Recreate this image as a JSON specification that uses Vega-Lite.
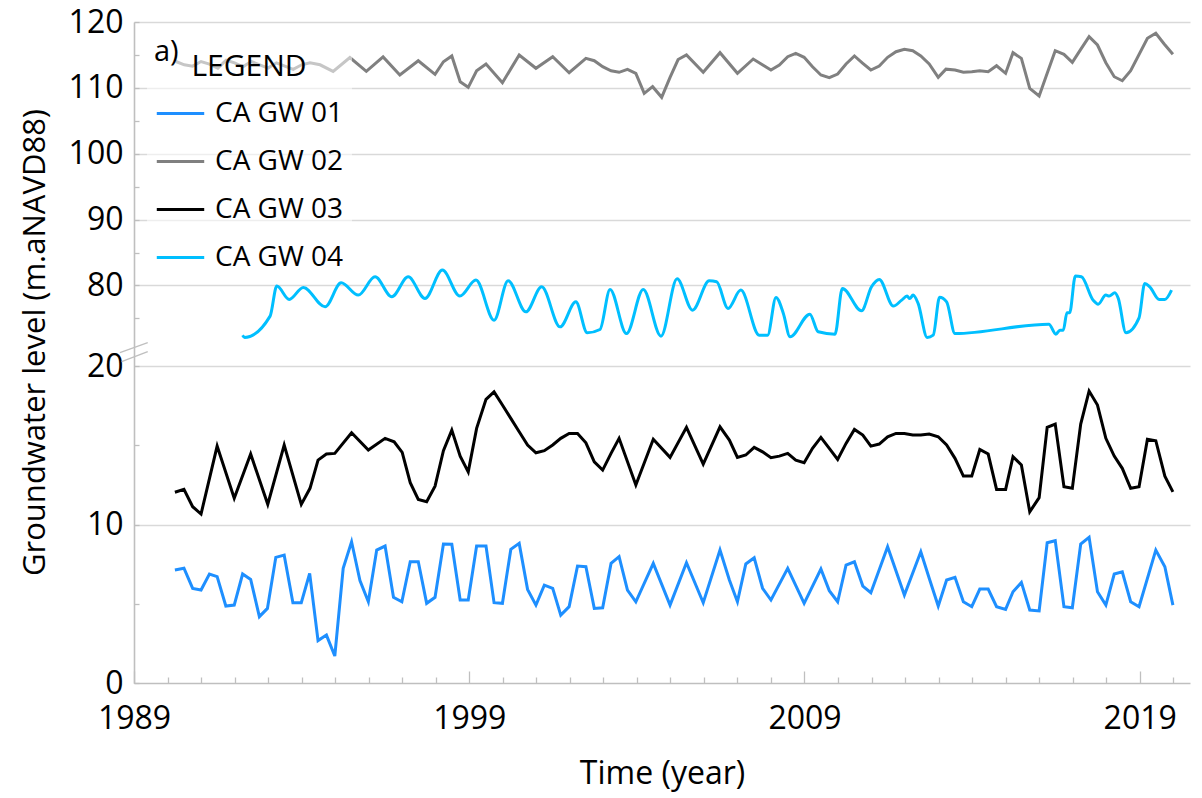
{
  "$schema": "https://vega.github.io/schema/vega-lite/v6.json",
  "width": 1056,
  "height": 661,
  "autosize": {"type": "none"},
  "padding": {"left": 134, "top": 22, "right": 12, "bottom": 115},
  "background": "white",
  "config": {
    "font": "Open Sans",
    "view": {"stroke": null},
    "legend": {
      "labelFontSize": 28,
      "labelFont": "Open Sans",
      "labelColor": "#000000",
      "labelLimit": 400,
      "titleFontSize": 30,
      "titleFontWeight": "normal",
      "titleColor": "#000000",
      "titleLimit": 400
    }
  },
  "title": {"text": "a)", "anchor": "start", "frame": "group", "orient": "top", "offset": 0, "dx": 20, "dy": 84, "baseline": "alphabetic", "fontSize": 29, "fontWeight": "normal", "color": "#000000"},
  "datasets": {
    "axis_break": [
      {"year": 1988.58, "year2": 1989.41, "level": 51.8, "level2": 71.3},
      {"year": 1988.63, "year2": 1989.41, "level": 30.3, "level2": 54.2}
    ],
    "wells": [
      {"well": "CA GW 01", "year": 1990.22, "level": 7.14},
      {"well": "CA GW 01", "year": 1990.49, "level": 7.25},
      {"well": "CA GW 01", "year": 1990.75, "level": 5.98},
      {"well": "CA GW 01", "year": 1991.0, "level": 5.88},
      {"well": "CA GW 01", "year": 1991.25, "level": 6.89},
      {"well": "CA GW 01", "year": 1991.48, "level": 6.72},
      {"well": "CA GW 01", "year": 1991.74, "level": 4.87},
      {"well": "CA GW 01", "year": 1991.99, "level": 4.93},
      {"well": "CA GW 01", "year": 1992.24, "level": 6.89},
      {"well": "CA GW 01", "year": 1992.48, "level": 6.55},
      {"well": "CA GW 01", "year": 1992.74, "level": 4.2},
      {"well": "CA GW 01", "year": 1992.98, "level": 4.72},
      {"well": "CA GW 01", "year": 1993.23, "level": 7.94},
      {"well": "CA GW 01", "year": 1993.48, "level": 8.08},
      {"well": "CA GW 01", "year": 1993.74, "level": 5.08},
      {"well": "CA GW 01", "year": 1993.99, "level": 5.08},
      {"well": "CA GW 01", "year": 1994.24, "level": 6.93},
      {"well": "CA GW 01", "year": 1994.49, "level": 2.69},
      {"well": "CA GW 01", "year": 1994.74, "level": 3.04},
      {"well": "CA GW 01", "year": 1994.99, "level": 1.72},
      {"well": "CA GW 01", "year": 1995.24, "level": 7.25},
      {"well": "CA GW 01", "year": 1995.49, "level": 8.92},
      {"well": "CA GW 01", "year": 1995.74, "level": 6.47},
      {"well": "CA GW 01", "year": 1995.99, "level": 5.14},
      {"well": "CA GW 01", "year": 1996.24, "level": 8.4},
      {"well": "CA GW 01", "year": 1996.49, "level": 8.65},
      {"well": "CA GW 01", "year": 1996.74, "level": 5.42},
      {"well": "CA GW 01", "year": 1996.99, "level": 5.14},
      {"well": "CA GW 01", "year": 1997.24, "level": 7.66},
      {"well": "CA GW 01", "year": 1997.48, "level": 7.66},
      {"well": "CA GW 01", "year": 1997.73, "level": 5.04},
      {"well": "CA GW 01", "year": 1997.98, "level": 5.42},
      {"well": "CA GW 01", "year": 1998.23, "level": 8.78},
      {"well": "CA GW 01", "year": 1998.48, "level": 8.76},
      {"well": "CA GW 01", "year": 1998.73, "level": 5.25},
      {"well": "CA GW 01", "year": 1998.97, "level": 5.25},
      {"well": "CA GW 01", "year": 1999.22, "level": 8.65},
      {"well": "CA GW 01", "year": 1999.5, "level": 8.65},
      {"well": "CA GW 01", "year": 1999.74, "level": 5.08},
      {"well": "CA GW 01", "year": 1999.99, "level": 5.04},
      {"well": "CA GW 01", "year": 2000.24, "level": 8.44},
      {"well": "CA GW 01", "year": 2000.49, "level": 8.82},
      {"well": "CA GW 01", "year": 2000.74, "level": 5.92},
      {"well": "CA GW 01", "year": 2000.99, "level": 4.93},
      {"well": "CA GW 01", "year": 2001.24, "level": 6.19},
      {"well": "CA GW 01", "year": 2001.49, "level": 5.99},
      {"well": "CA GW 01", "year": 2001.73, "level": 4.3},
      {"well": "CA GW 01", "year": 2001.98, "level": 4.83},
      {"well": "CA GW 01", "year": 2002.23, "level": 7.39},
      {"well": "CA GW 01", "year": 2002.48, "level": 7.35},
      {"well": "CA GW 01", "year": 2002.73, "level": 4.72},
      {"well": "CA GW 01", "year": 2002.98, "level": 4.76},
      {"well": "CA GW 01", "year": 2003.23, "level": 7.56},
      {"well": "CA GW 01", "year": 2003.47, "level": 7.98},
      {"well": "CA GW 01", "year": 2003.72, "level": 5.88},
      {"well": "CA GW 01", "year": 2003.97, "level": 5.14},
      {"well": "CA GW 01", "year": 2004.49, "level": 7.56},
      {"well": "CA GW 01", "year": 2004.99, "level": 4.93},
      {"well": "CA GW 01", "year": 2005.48, "level": 7.6},
      {"well": "CA GW 01", "year": 2005.98, "level": 5.08},
      {"well": "CA GW 01", "year": 2006.48, "level": 8.4},
      {"well": "CA GW 01", "year": 2006.76, "level": 6.51},
      {"well": "CA GW 01", "year": 2007.0, "level": 5.14},
      {"well": "CA GW 01", "year": 2007.25, "level": 7.52},
      {"well": "CA GW 01", "year": 2007.5, "level": 7.91},
      {"well": "CA GW 01", "year": 2007.75, "level": 5.99},
      {"well": "CA GW 01", "year": 2008.0, "level": 5.25},
      {"well": "CA GW 01", "year": 2008.5, "level": 7.25},
      {"well": "CA GW 01", "year": 2008.99, "level": 5.04},
      {"well": "CA GW 01", "year": 2009.49, "level": 7.2},
      {"well": "CA GW 01", "year": 2009.74, "level": 5.84},
      {"well": "CA GW 01", "year": 2009.99, "level": 5.14},
      {"well": "CA GW 01", "year": 2010.24, "level": 7.45},
      {"well": "CA GW 01", "year": 2010.49, "level": 7.66},
      {"well": "CA GW 01", "year": 2010.74, "level": 6.13},
      {"well": "CA GW 01", "year": 2010.98, "level": 5.71},
      {"well": "CA GW 01", "year": 2011.48, "level": 8.61},
      {"well": "CA GW 01", "year": 2011.98, "level": 5.56},
      {"well": "CA GW 01", "year": 2012.47, "level": 8.29},
      {"well": "CA GW 01", "year": 2012.74, "level": 6.5},
      {"well": "CA GW 01", "year": 2012.99, "level": 4.87},
      {"well": "CA GW 01", "year": 2013.24, "level": 6.51},
      {"well": "CA GW 01", "year": 2013.49, "level": 6.68},
      {"well": "CA GW 01", "year": 2013.74, "level": 5.14},
      {"well": "CA GW 01", "year": 2013.99, "level": 4.83},
      {"well": "CA GW 01", "year": 2014.23, "level": 5.94},
      {"well": "CA GW 01", "year": 2014.48, "level": 5.94},
      {"well": "CA GW 01", "year": 2014.73, "level": 4.83},
      {"well": "CA GW 01", "year": 2015.0, "level": 4.66},
      {"well": "CA GW 01", "year": 2015.22, "level": 5.77},
      {"well": "CA GW 01", "year": 2015.47, "level": 6.36},
      {"well": "CA GW 01", "year": 2015.72, "level": 4.62},
      {"well": "CA GW 01", "year": 2016.0, "level": 4.56},
      {"well": "CA GW 01", "year": 2016.24, "level": 8.86},
      {"well": "CA GW 01", "year": 2016.48, "level": 8.99},
      {"well": "CA GW 01", "year": 2016.74, "level": 4.83},
      {"well": "CA GW 01", "year": 2016.99, "level": 4.76},
      {"well": "CA GW 01", "year": 2017.24, "level": 8.78},
      {"well": "CA GW 01", "year": 2017.49, "level": 9.2},
      {"well": "CA GW 01", "year": 2017.74, "level": 5.77},
      {"well": "CA GW 01", "year": 2017.99, "level": 4.93},
      {"well": "CA GW 01", "year": 2018.24, "level": 6.89},
      {"well": "CA GW 01", "year": 2018.48, "level": 7.03},
      {"well": "CA GW 01", "year": 2018.73, "level": 5.14},
      {"well": "CA GW 01", "year": 2018.98, "level": 4.83},
      {"well": "CA GW 01", "year": 2019.48, "level": 8.4},
      {"well": "CA GW 01", "year": 2019.75, "level": 7.35},
      {"well": "CA GW 01", "year": 2019.99, "level": 4.93},

      {"well": "CA GW 02", "year": 1990.25, "level": 114.0},
      {"well": "CA GW 02", "year": 1990.5, "level": 113.5},
      {"well": "CA GW 02", "year": 1990.75, "level": 113.3},
      {"well": "CA GW 02", "year": 1991.0, "level": 114.0},
      {"well": "CA GW 02", "year": 1991.25, "level": 113.6},
      {"well": "CA GW 02", "year": 1991.5, "level": 113.0},
      {"well": "CA GW 02", "year": 1991.75, "level": 114.2},
      {"well": "CA GW 02", "year": 1992.0, "level": 113.8},
      {"well": "CA GW 02", "year": 1992.25, "level": 113.2},
      {"well": "CA GW 02", "year": 1992.5, "level": 114.0},
      {"well": "CA GW 02", "year": 1992.75, "level": 113.5},
      {"well": "CA GW 02", "year": 1993.0, "level": 113.0},
      {"well": "CA GW 02", "year": 1993.25, "level": 113.8},
      {"well": "CA GW 02", "year": 1993.5, "level": 113.3},
      {"well": "CA GW 02", "year": 1993.75, "level": 112.8},
      {"well": "CA GW 02", "year": 1994.0, "level": 113.5},
      {"well": "CA GW 02", "year": 1994.25, "level": 113.8},
      {"well": "CA GW 02", "year": 1994.55, "level": 113.5},
      {"well": "CA GW 02", "year": 1994.94, "level": 112.5},
      {"well": "CA GW 02", "year": 1995.44, "level": 114.6},
      {"well": "CA GW 02", "year": 1995.93, "level": 112.5},
      {"well": "CA GW 02", "year": 1996.43, "level": 114.7},
      {"well": "CA GW 02", "year": 1996.93, "level": 111.95},
      {"well": "CA GW 02", "year": 1997.48, "level": 114.12},
      {"well": "CA GW 02", "year": 1997.98, "level": 112.05},
      {"well": "CA GW 02", "year": 1998.23, "level": 113.97},
      {"well": "CA GW 02", "year": 1998.48, "level": 114.84},
      {"well": "CA GW 02", "year": 1998.73, "level": 110.93},
      {"well": "CA GW 02", "year": 1998.97, "level": 110.08},
      {"well": "CA GW 02", "year": 1999.22, "level": 112.6},
      {"well": "CA GW 02", "year": 1999.5, "level": 113.62},
      {"well": "CA GW 02", "year": 1999.99, "level": 110.78},
      {"well": "CA GW 02", "year": 2000.49, "level": 114.99},
      {"well": "CA GW 02", "year": 2000.99, "level": 112.97},
      {"well": "CA GW 02", "year": 2001.49, "level": 114.73},
      {"well": "CA GW 02", "year": 2001.98, "level": 112.3},
      {"well": "CA GW 02", "year": 2002.48, "level": 114.48},
      {"well": "CA GW 02", "year": 2002.73, "level": 114.12},
      {"well": "CA GW 02", "year": 2002.98, "level": 113.21},
      {"well": "CA GW 02", "year": 2003.23, "level": 112.6},
      {"well": "CA GW 02", "year": 2003.47, "level": 112.36},
      {"well": "CA GW 02", "year": 2003.72, "level": 112.81},
      {"well": "CA GW 02", "year": 2003.97, "level": 112.21},
      {"well": "CA GW 02", "year": 2004.22, "level": 109.17},
      {"well": "CA GW 02", "year": 2004.47, "level": 110.18},
      {"well": "CA GW 02", "year": 2004.74, "level": 108.56},
      {"well": "CA GW 02", "year": 2004.99, "level": 111.6},
      {"well": "CA GW 02", "year": 2005.23, "level": 114.3},
      {"well": "CA GW 02", "year": 2005.48, "level": 115.0},
      {"well": "CA GW 02", "year": 2005.98, "level": 112.36},
      {"well": "CA GW 02", "year": 2006.48, "level": 115.34},
      {"well": "CA GW 02", "year": 2007.0, "level": 112.21},
      {"well": "CA GW 02", "year": 2007.47, "level": 114.38},
      {"well": "CA GW 02", "year": 2008.0, "level": 112.71},
      {"well": "CA GW 02", "year": 2008.25, "level": 113.47},
      {"well": "CA GW 02", "year": 2008.5, "level": 114.73},
      {"well": "CA GW 02", "year": 2008.74, "level": 115.24},
      {"well": "CA GW 02", "year": 2008.99, "level": 114.64},
      {"well": "CA GW 02", "year": 2009.24, "level": 113.21},
      {"well": "CA GW 02", "year": 2009.49, "level": 111.95},
      {"well": "CA GW 02", "year": 2009.74, "level": 111.54},
      {"well": "CA GW 02", "year": 2009.99, "level": 112.1},
      {"well": "CA GW 02", "year": 2010.24, "level": 113.62},
      {"well": "CA GW 02", "year": 2010.49, "level": 114.84},
      {"well": "CA GW 02", "year": 2010.74, "level": 113.73},
      {"well": "CA GW 02", "year": 2010.98, "level": 112.71},
      {"well": "CA GW 02", "year": 2011.23, "level": 113.32},
      {"well": "CA GW 02", "year": 2011.48, "level": 114.64},
      {"well": "CA GW 02", "year": 2011.73, "level": 115.49},
      {"well": "CA GW 02", "year": 2011.98, "level": 115.85},
      {"well": "CA GW 02", "year": 2012.23, "level": 115.64},
      {"well": "CA GW 02", "year": 2012.47, "level": 114.84},
      {"well": "CA GW 02", "year": 2012.72, "level": 113.62},
      {"well": "CA GW 02", "year": 2012.99, "level": 111.6},
      {"well": "CA GW 02", "year": 2013.22, "level": 112.84},
      {"well": "CA GW 02", "year": 2013.49, "level": 112.71},
      {"well": "CA GW 02", "year": 2013.74, "level": 112.36},
      {"well": "CA GW 02", "year": 2013.99, "level": 112.45},
      {"well": "CA GW 02", "year": 2014.23, "level": 112.6},
      {"well": "CA GW 02", "year": 2014.48, "level": 112.45},
      {"well": "CA GW 02", "year": 2014.73, "level": 113.36},
      {"well": "CA GW 02", "year": 2015.0, "level": 112.21},
      {"well": "CA GW 02", "year": 2015.22, "level": 115.34},
      {"well": "CA GW 02", "year": 2015.47, "level": 114.48},
      {"well": "CA GW 02", "year": 2015.72, "level": 109.93},
      {"well": "CA GW 02", "year": 2016.0, "level": 108.76},
      {"well": "CA GW 02", "year": 2016.24, "level": 112.21},
      {"well": "CA GW 02", "year": 2016.48, "level": 115.64},
      {"well": "CA GW 02", "year": 2016.74, "level": 115.09},
      {"well": "CA GW 02", "year": 2016.99, "level": 113.88},
      {"well": "CA GW 02", "year": 2017.24, "level": 115.85},
      {"well": "CA GW 02", "year": 2017.49, "level": 117.77},
      {"well": "CA GW 02", "year": 2017.74, "level": 116.51},
      {"well": "CA GW 02", "year": 2017.99, "level": 113.82},
      {"well": "CA GW 02", "year": 2018.24, "level": 111.69},
      {"well": "CA GW 02", "year": 2018.48, "level": 111.08},
      {"well": "CA GW 02", "year": 2018.73, "level": 112.6},
      {"well": "CA GW 02", "year": 2019.23, "level": 117.52},
      {"well": "CA GW 02", "year": 2019.48, "level": 118.28},
      {"well": "CA GW 02", "year": 2019.73, "level": 116.66},
      {"well": "CA GW 02", "year": 2019.99, "level": 115.09},

      {"well": "CA GW 03", "year": 1990.22, "level": 12.04},
      {"well": "CA GW 03", "year": 1990.49, "level": 12.22},
      {"well": "CA GW 03", "year": 1990.75, "level": 11.13},
      {"well": "CA GW 03", "year": 1991.0, "level": 10.67},
      {"well": "CA GW 03", "year": 1991.48, "level": 14.95},
      {"well": "CA GW 03", "year": 1991.99, "level": 11.66},
      {"well": "CA GW 03", "year": 1992.48, "level": 14.45},
      {"well": "CA GW 03", "year": 1992.99, "level": 11.28},
      {"well": "CA GW 03", "year": 1993.48, "level": 15.02},
      {"well": "CA GW 03", "year": 1993.99, "level": 11.28},
      {"well": "CA GW 03", "year": 1994.25, "level": 12.29},
      {"well": "CA GW 03", "year": 1994.49, "level": 14.07},
      {"well": "CA GW 03", "year": 1994.74, "level": 14.45},
      {"well": "CA GW 03", "year": 1994.99, "level": 14.49},
      {"well": "CA GW 03", "year": 1995.49, "level": 15.79},
      {"well": "CA GW 03", "year": 1995.99, "level": 14.7},
      {"well": "CA GW 03", "year": 1996.49, "level": 15.44},
      {"well": "CA GW 03", "year": 1996.76, "level": 15.22},
      {"well": "CA GW 03", "year": 1997.0, "level": 14.55},
      {"well": "CA GW 03", "year": 1997.24, "level": 12.65},
      {"well": "CA GW 03", "year": 1997.48, "level": 11.59},
      {"well": "CA GW 03", "year": 1997.73, "level": 11.44},
      {"well": "CA GW 03", "year": 1997.98, "level": 12.43},
      {"well": "CA GW 03", "year": 1998.23, "level": 14.66},
      {"well": "CA GW 03", "year": 1998.48, "level": 15.96},
      {"well": "CA GW 03", "year": 1998.73, "level": 14.32},
      {"well": "CA GW 03", "year": 1998.97, "level": 13.33},
      {"well": "CA GW 03", "year": 1999.22, "level": 16.07},
      {"well": "CA GW 03", "year": 1999.5, "level": 17.9},
      {"well": "CA GW 03", "year": 1999.74, "level": 18.37},
      {"well": "CA GW 03", "year": 1999.99, "level": 17.54},
      {"well": "CA GW 03", "year": 2000.24, "level": 16.7},
      {"well": "CA GW 03", "year": 2000.49, "level": 15.86},
      {"well": "CA GW 03", "year": 2000.74, "level": 15.02},
      {"well": "CA GW 03", "year": 2000.99, "level": 14.53},
      {"well": "CA GW 03", "year": 2001.24, "level": 14.66},
      {"well": "CA GW 03", "year": 2001.49, "level": 15.02},
      {"well": "CA GW 03", "year": 2001.73, "level": 15.44},
      {"well": "CA GW 03", "year": 2001.98, "level": 15.75},
      {"well": "CA GW 03", "year": 2002.23, "level": 15.75},
      {"well": "CA GW 03", "year": 2002.48, "level": 15.16},
      {"well": "CA GW 03", "year": 2002.73, "level": 13.96},
      {"well": "CA GW 03", "year": 2002.98, "level": 13.44},
      {"well": "CA GW 03", "year": 2003.23, "level": 14.49},
      {"well": "CA GW 03", "year": 2003.47, "level": 15.44},
      {"well": "CA GW 03", "year": 2003.97, "level": 12.5},
      {"well": "CA GW 03", "year": 2004.49, "level": 15.38},
      {"well": "CA GW 03", "year": 2004.99, "level": 14.24},
      {"well": "CA GW 03", "year": 2005.48, "level": 16.13},
      {"well": "CA GW 03", "year": 2005.98, "level": 13.82},
      {"well": "CA GW 03", "year": 2006.48, "level": 16.17},
      {"well": "CA GW 03", "year": 2006.76, "level": 15.33},
      {"well": "CA GW 03", "year": 2007.0, "level": 14.24},
      {"well": "CA GW 03", "year": 2007.25, "level": 14.39},
      {"well": "CA GW 03", "year": 2007.5, "level": 14.87},
      {"well": "CA GW 03", "year": 2007.75, "level": 14.59},
      {"well": "CA GW 03", "year": 2008.0, "level": 14.22},
      {"well": "CA GW 03", "year": 2008.25, "level": 14.32},
      {"well": "CA GW 03", "year": 2008.5, "level": 14.49},
      {"well": "CA GW 03", "year": 2008.74, "level": 14.07},
      {"well": "CA GW 03", "year": 2008.99, "level": 13.9},
      {"well": "CA GW 03", "year": 2009.24, "level": 14.81},
      {"well": "CA GW 03", "year": 2009.49, "level": 15.5},
      {"well": "CA GW 03", "year": 2009.74, "level": 14.81},
      {"well": "CA GW 03", "year": 2009.99, "level": 14.11},
      {"well": "CA GW 03", "year": 2010.24, "level": 15.12},
      {"well": "CA GW 03", "year": 2010.49, "level": 16.0},
      {"well": "CA GW 03", "year": 2010.74, "level": 15.65},
      {"well": "CA GW 03", "year": 2010.98, "level": 14.95},
      {"well": "CA GW 03", "year": 2011.23, "level": 15.08},
      {"well": "CA GW 03", "year": 2011.48, "level": 15.54},
      {"well": "CA GW 03", "year": 2011.73, "level": 15.75},
      {"well": "CA GW 03", "year": 2011.98, "level": 15.75},
      {"well": "CA GW 03", "year": 2012.23, "level": 15.65},
      {"well": "CA GW 03", "year": 2012.47, "level": 15.65},
      {"well": "CA GW 03", "year": 2012.72, "level": 15.71},
      {"well": "CA GW 03", "year": 2012.99, "level": 15.54},
      {"well": "CA GW 03", "year": 2013.24, "level": 15.02},
      {"well": "CA GW 03", "year": 2013.49, "level": 14.18},
      {"well": "CA GW 03", "year": 2013.74, "level": 13.06},
      {"well": "CA GW 03", "year": 2013.99, "level": 13.06},
      {"well": "CA GW 03", "year": 2014.23, "level": 14.74},
      {"well": "CA GW 03", "year": 2014.48, "level": 14.45},
      {"well": "CA GW 03", "year": 2014.73, "level": 12.22},
      {"well": "CA GW 03", "year": 2015.0, "level": 12.22},
      {"well": "CA GW 03", "year": 2015.22, "level": 14.28},
      {"well": "CA GW 03", "year": 2015.47, "level": 13.76},
      {"well": "CA GW 03", "year": 2015.72, "level": 10.81},
      {"well": "CA GW 03", "year": 2016.0, "level": 11.7},
      {"well": "CA GW 03", "year": 2016.24, "level": 16.13},
      {"well": "CA GW 03", "year": 2016.48, "level": 16.34},
      {"well": "CA GW 03", "year": 2016.74, "level": 12.39},
      {"well": "CA GW 03", "year": 2016.99, "level": 12.29},
      {"well": "CA GW 03", "year": 2017.24, "level": 16.34},
      {"well": "CA GW 03", "year": 2017.49, "level": 18.42},
      {"well": "CA GW 03", "year": 2017.74, "level": 17.54},
      {"well": "CA GW 03", "year": 2017.99, "level": 15.44},
      {"well": "CA GW 03", "year": 2018.24, "level": 14.32},
      {"well": "CA GW 03", "year": 2018.48, "level": 13.55},
      {"well": "CA GW 03", "year": 2018.73, "level": 12.29},
      {"well": "CA GW 03", "year": 2018.98, "level": 12.39},
      {"well": "CA GW 03", "year": 2019.23, "level": 15.38},
      {"well": "CA GW 03", "year": 2019.48, "level": 15.29},
      {"well": "CA GW 03", "year": 2019.75, "level": 13.06},
      {"well": "CA GW 03", "year": 2019.99, "level": 12.07},

      {"well": "CA GW 04", "year": 1992.24, "level": 72.45},
      {"well": "CA GW 04", "year": 1992.3, "level": 72.1},
      {"well": "CA GW 04", "year": 1993.06, "level": 75.34},
      {"well": "CA GW 04", "year": 1993.26, "level": 79.9},
      {"well": "CA GW 04", "year": 1993.63, "level": 77.87},
      {"well": "CA GW 04", "year": 1994.05, "level": 79.7},
      {"well": "CA GW 04", "year": 1994.7, "level": 76.75},
      {"well": "CA GW 04", "year": 1995.18, "level": 80.4},
      {"well": "CA GW 04", "year": 1995.69, "level": 78.53},
      {"well": "CA GW 04", "year": 1996.19, "level": 81.31},
      {"well": "CA GW 04", "year": 1996.69, "level": 78.27},
      {"well": "CA GW 04", "year": 1997.18, "level": 81.3},
      {"well": "CA GW 04", "year": 1997.68, "level": 78.02},
      {"well": "CA GW 04", "year": 1998.2, "level": 82.33},
      {"well": "CA GW 04", "year": 1998.72, "level": 78.38},
      {"well": "CA GW 04", "year": 1999.2, "level": 80.81},
      {"well": "CA GW 04", "year": 1999.74, "level": 74.73},
      {"well": "CA GW 04", "year": 2000.16, "level": 80.7},
      {"well": "CA GW 04", "year": 2000.69, "level": 75.99},
      {"well": "CA GW 04", "year": 2001.16, "level": 79.79},
      {"well": "CA GW 04", "year": 2001.71, "level": 73.71},
      {"well": "CA GW 04", "year": 2002.18, "level": 77.51},
      {"well": "CA GW 04", "year": 2002.52, "level": 72.81},
      {"well": "CA GW 04", "year": 2002.9, "level": 73.31},
      {"well": "CA GW 04", "year": 2003.2, "level": 79.39},
      {"well": "CA GW 04", "year": 2003.69, "level": 72.69},
      {"well": "CA GW 04", "year": 2004.19, "level": 79.39},
      {"well": "CA GW 04", "year": 2004.72, "level": 72.3},
      {"well": "CA GW 04", "year": 2005.2, "level": 81.0},
      {"well": "CA GW 04", "year": 2005.66, "level": 76.25},
      {"well": "CA GW 04", "year": 2006.16, "level": 80.7},
      {"well": "CA GW 04", "year": 2006.38, "level": 80.55},
      {"well": "CA GW 04", "year": 2006.72, "level": 76.51},
      {"well": "CA GW 04", "year": 2007.1, "level": 79.29},
      {"well": "CA GW 04", "year": 2007.65, "level": 72.45},
      {"well": "CA GW 04", "year": 2007.9, "level": 72.45},
      {"well": "CA GW 04", "year": 2008.15, "level": 78.18},
      {"well": "CA GW 04", "year": 2008.37, "level": 75.75},
      {"well": "CA GW 04", "year": 2008.57, "level": 72.19},
      {"well": "CA GW 04", "year": 2009.16, "level": 75.64},
      {"well": "CA GW 04", "year": 2009.41, "level": 72.96},
      {"well": "CA GW 04", "year": 2009.91, "level": 72.6},
      {"well": "CA GW 04", "year": 2010.13, "level": 79.55},
      {"well": "CA GW 04", "year": 2010.7, "level": 76.15},
      {"well": "CA GW 04", "year": 2011.0, "level": 79.79},
      {"well": "CA GW 04", "year": 2011.23, "level": 80.91},
      {"well": "CA GW 04", "year": 2011.65, "level": 76.86},
      {"well": "CA GW 04", "year": 2011.9, "level": 77.77},
      {"well": "CA GW 04", "year": 2012.06, "level": 78.38},
      {"well": "CA GW 04", "year": 2012.14, "level": 78.0},
      {"well": "CA GW 04", "year": 2012.24, "level": 78.53},
      {"well": "CA GW 04", "year": 2012.39, "level": 77.27},
      {"well": "CA GW 04", "year": 2012.66, "level": 72.1},
      {"well": "CA GW 04", "year": 2012.84, "level": 72.45},
      {"well": "CA GW 04", "year": 2013.03, "level": 78.2},
      {"well": "CA GW 04", "year": 2013.24, "level": 77.51},
      {"well": "CA GW 04", "year": 2013.49, "level": 72.69},
      {"well": "CA GW 04", "year": 2016.29, "level": 74.12},
      {"well": "CA GW 04", "year": 2016.5, "level": 72.6},
      {"well": "CA GW 04", "year": 2016.62, "level": 73.21},
      {"well": "CA GW 04", "year": 2016.72, "level": 73.21},
      {"well": "CA GW 04", "year": 2016.83, "level": 75.84},
      {"well": "CA GW 04", "year": 2016.91, "level": 75.84},
      {"well": "CA GW 04", "year": 2017.08, "level": 81.42},
      {"well": "CA GW 04", "year": 2017.26, "level": 81.31},
      {"well": "CA GW 04", "year": 2017.61, "level": 77.77},
      {"well": "CA GW 04", "year": 2017.76, "level": 77.16},
      {"well": "CA GW 04", "year": 2017.99, "level": 78.53},
      {"well": "CA GW 04", "year": 2018.09, "level": 78.38},
      {"well": "CA GW 04", "year": 2018.26, "level": 78.88},
      {"well": "CA GW 04", "year": 2018.36, "level": 78.03},
      {"well": "CA GW 04", "year": 2018.59, "level": 72.81},
      {"well": "CA GW 04", "year": 2018.98, "level": 75.08},
      {"well": "CA GW 04", "year": 2019.15, "level": 80.3},
      {"well": "CA GW 04", "year": 2019.3, "level": 79.79},
      {"well": "CA GW 04", "year": 2019.58, "level": 77.87},
      {"well": "CA GW 04", "year": 2019.75, "level": 77.87},
      {"well": "CA GW 04", "year": 2019.95, "level": 79.29}
    ]
  },
  "encoding": {
    "x": {
      "field": "year",
      "type": "quantitative",
      "scale": {"domain": [1989, 2020.5], "nice": false, "zero": false},
      "axis": {
        "values": [1989, 1990, 1991, 1992, 1993, 1994, 1995, 1996, 1997, 1998, 1999, 2000, 2001, 2002, 2003, 2004, 2005, 2006, 2007, 2008, 2009, 2010, 2011, 2012, 2013, 2014, 2015, 2016, 2017, 2018, 2019, 2020],
        "format": "d",
        "labelExpr": "(datum.value - 1989) % 10 === 0 ? datum.label : ''",
        "tickSize": {"condition": {"test": "(datum.value - 1989) % 10 === 0", "value": -12}, "value": -6},
        "tickColor": "#bfbfbf",
        "tickWidth": 1.3,
        "domainColor": "#bfbfbf",
        "domainWidth": 1.6,
        "grid": false,
        "labelPadding": 32,
        "labelFontSize": 32,
        "labelColor": "#000000",
        "labelFlush": false,
        "labelOverlap": false,
        "title": "Time (year)",
        "titleFontSize": 32,
        "titleFontWeight": "normal",
        "titleColor": "#000000",
        "titleBaseline": "middle",
        "titleY": 90
      }
    },
    "y": {
      "field": "level",
      "type": "quantitative",
      "scale": {"domain": [0, 20, 71, 120], "range": [661.3, 344, 322.7, 0], "nice": false, "zero": false},
      "axis": {
        "values": [0, 5, 10, 15, 20, 75, 80, 85, 90, 95, 100, 105, 110, 115, 120],
        "labelExpr": "indexof([0, 10, 20, 80, 90, 100, 110, 120], datum.value) >= 0 ? datum.label : ''",
        "grid": true,
        "gridColor": "#d9d9d9",
        "gridWidth": 1.5,
        "gridOpacity": {"condition": {"test": "indexof([10, 20, 80, 90, 100, 110, 120], datum.value) >= 0", "value": 1}, "value": 0},
        "tickSize": -5,
        "tickColor": "#bfbfbf",
        "tickWidth": 1.3,
        "domainColor": "#bfbfbf",
        "domainWidth": 1.6,
        "labelPadding": 16,
        "labelFontSize": 32,
        "labelColor": "#000000",
        "labelFlush": false,
        "labelOverlap": false,
        "title": "Groundwater level (m.aNAVD88)",
        "titleFontSize": 31,
        "titleFontWeight": "normal",
        "titleColor": "#000000",
        "titleAngle": -90,
        "titleAlign": "center",
        "titleBaseline": "middle",
        "titleX": -99,
        "titleY": 320
      }
    },
    "color": {
      "field": "well",
      "type": "nominal",
      "scale": {"domain": ["CA GW 01", "CA GW 02", "CA GW 03", "CA GW 04"], "range": ["#1E8FFF", "#808080", "#000000", "#00BFFF"]},
      "legend": {
        "orient": "none",
        "legendX": 13,
        "legendY": 22,
        "title": "LEGEND",
        "titleFontSize": 30,
        "titleAnchor": "middle",
        "titlePadding": 6,
        "symbolType": "stroke",
        "symbolSize": 2250,
        "symbolStrokeWidth": 3,
        "labelFontSize": 28,
        "labelOffset": 9,
        "rowPadding": 8,
        "padding": 8,
        "fillColor": "rgba(255,255,255,0.55)"
      }
    }
  },
  "layer": [
    {
      "data": {"name": "axis_break"},
      "mark": {"type": "rule", "color": "#bfbfbf", "strokeWidth": 1.3},
      "encoding": {
        "x2": {"field": "year2"},
        "y2": {"field": "level2"},
        "color": {"value": "#bfbfbf"}
      }
    },
    {
      "data": {"name": "wells"},
      "transform": [{"filter": "datum.well !== 'CA GW 04'"}],
      "mark": {"type": "line", "strokeWidth": 3}
    },
    {
      "data": {"name": "wells"},
      "transform": [{"filter": "datum.well === 'CA GW 04'"}],
      "mark": {"type": "line", "strokeWidth": 3, "interpolate": "monotone"}
    }
  ]
}
